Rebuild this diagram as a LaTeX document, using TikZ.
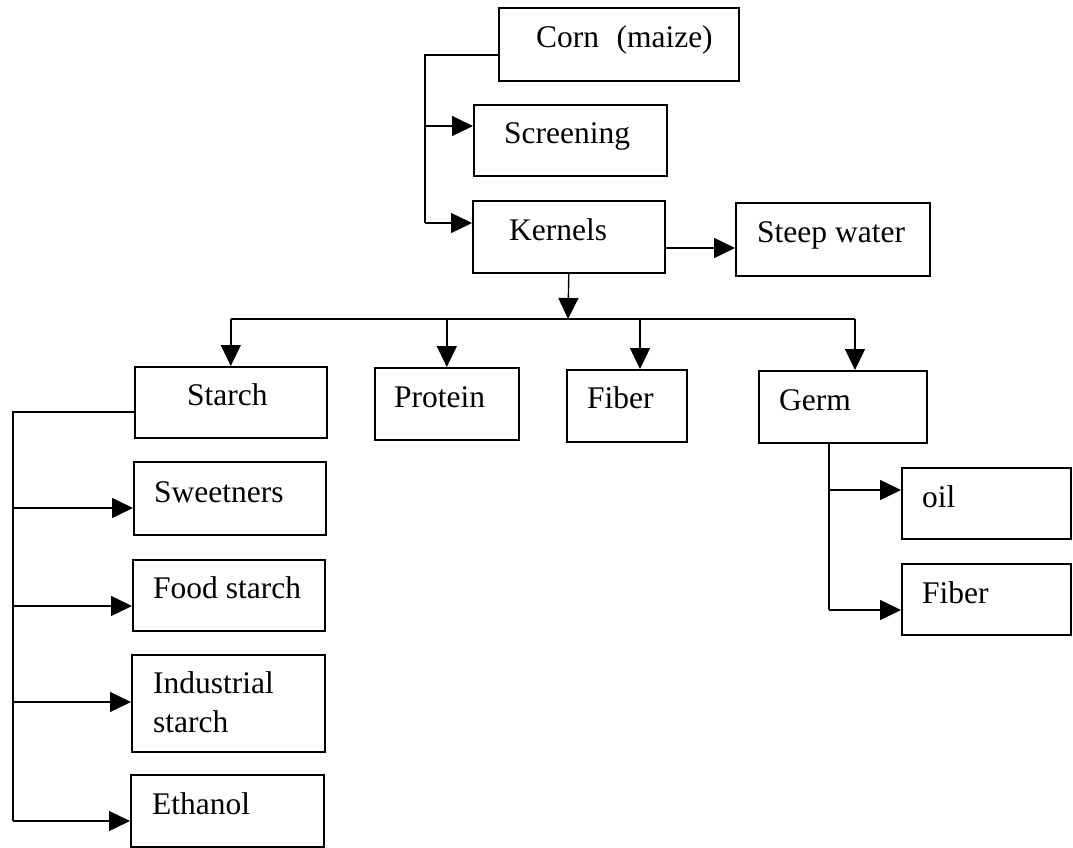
\documentclass[tikz,border=0pt]{standalone}
\usepackage{fontspec}
\setmainfont{Liberation Serif}
\usetikzlibrary{arrows.meta}
\begin{document}
\begin{tikzpicture}[x=1pt,y=-1pt,
  box/.style={draw, line width=1.6pt, rectangle, inner sep=0pt, anchor=north west},
  lbl/.style={inner sep=0pt, anchor=base west, font=\fontsize{31.5}{39}\selectfont},
  conn/.style={line width=1.4pt},
  arr/.style={conn, -{Triangle[length=21pt,width=20pt]}}]
\useasboundingbox[fill=white] (0,0) rectangle (1073,848);

% boxes: top-left corner, width, height
\node[box, minimum width=240pt, minimum height=73pt] (corn)  at (498,7)   {};
\node[box, minimum width=193pt, minimum height=71pt] (scr)   at (473,104) {};
\node[box, minimum width=192pt, minimum height=72pt] (kern)  at (472,200) {};
\node[box, minimum width=194pt, minimum height=73pt] (steep) at (735,202) {};
\node[box, minimum width=192pt, minimum height=71pt] (starch) at (134,366) {};
\node[box, minimum width=144pt, minimum height=72pt] (prot)  at (374,367) {};
\node[box, minimum width=120pt, minimum height=72pt] (fib)   at (566,369) {};
\node[box, minimum width=168pt, minimum height=72pt] (germ)  at (758,370) {};
\node[box, minimum width=192pt, minimum height=73pt] (sweet) at (133,461) {};
\node[box, minimum width=192pt, minimum height=71pt] (food)  at (132,559) {};
\node[box, minimum width=193pt, minimum height=97pt] (ind)   at (131,654) {};
\node[box, minimum width=193pt, minimum height=72pt] (eth)   at (130,774) {};
\node[box, minimum width=169pt, minimum height=71pt] (oil)   at (901,467) {};
\node[box, minimum width=169pt, minimum height=71pt] (gfib)  at (901,563) {};

% labels
\node[lbl] (corn-t)   at (536,48)  {Corn\hspace{0.55em}(maize)};
\node[lbl] (scr-t)    at (504,143) {Screening};
\node[lbl] (kern-t)   at (509,240) {Kernels};
\node[lbl] (steep-t)  at (757,242) {Steep water};
\node[lbl] (starch-t) at (187,405) {Starch};
\node[lbl] (prot-t)   at (394,407) {Protein};
\node[lbl] (fib-t)    at (587,408) {Fiber};
\node[lbl] (germ-t)   at (779,410) {Germ};
\node[lbl] (sweet-t)  at (154,502) {Sweetners};
\node[lbl] (food-t)   at (153,598) {Food starch};
% two-line label: its base anchor sits on the last line
\node[lbl, align=left] (ind-t) at (153,732) {Industrial\\starch};
\node[lbl] (eth-t)    at (152,814) {Ethanol};
\node[lbl] (oil-t)    at (922,507) {oil};
\node[lbl] (gfib-t)   at (922,603) {Fiber};

% corn -> screening, kernels
\coordinate (cbus) at (425,55);
\draw[conn] (corn.west |- cbus) -- (cbus) -- (cbus |- 0,223);
\draw[arr] (cbus |- 0,126) -- (scr.west |- 0,126);
\draw[arr] (cbus |- 0,223) -- (kern.west |- 0,223);

% kernels -> steep water
\draw[arr] (kern.east |- 0,248) -- (steep.west |- 0,248);

% kernels -> fractions
\coordinate (kbus) at (568,319);
\draw[arr] (kern.south) -- (kbus);
\draw[conn] (starch.north |- kbus) -- (855,319);
\draw[arr] (starch.north |- kbus) -- (starch.north);
\draw[arr] (prot.north |- kbus) -- (prot.north);
\draw[arr] (640,319) -- (640,369);
\draw[arr] (855,319) -- (855,370);

% starch products
\coordinate (sbus) at (13,412);
\draw[conn] (starch.west |- sbus) -- (sbus) -- (sbus |- 0,821);
\draw[arr] (sbus |- 0,508) -- (sweet.west |- 0,508);
\draw[arr] (sbus |- 0,606) -- (food.west |- 0,606);
\draw[arr] (sbus |- 0,702) -- (ind.west |- 0,702);
\draw[arr] (sbus |- 0,821) -- (eth.west |- 0,821);

% germ products
\coordinate (gbus) at (829,442);
\draw[conn] (gbus) -- (gbus |- 0,610);
\draw[arr] (gbus |- 0,490) -- (oil.west |- 0,490);
\draw[arr] (gbus |- 0,610) -- (gfib.west |- 0,610);
\end{tikzpicture}
\end{document}
